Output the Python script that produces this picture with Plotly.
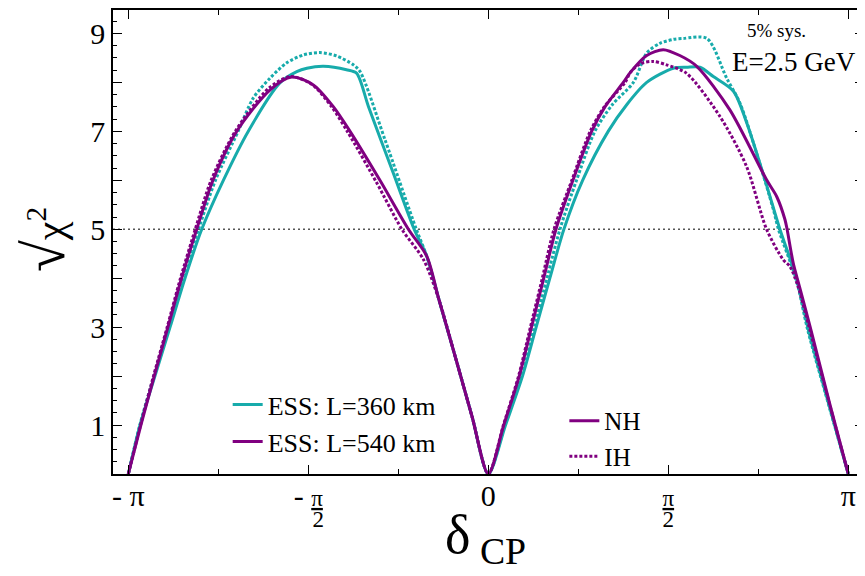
import numpy as np
import plotly.graph_objects as go

# delta_CP in units of pi, sqrt(chi^2) values
X_360_NH = [-1.0, -0.9675, -0.926, -0.884, -0.8425, -0.796, -0.736, -0.667, -0.579, -0.532, -0.504, -0.458, -0.394, -0.366, -0.333, -0.264, -0.206, -0.171, -0.137, -0.09, -0.045, 0.0,
            0.048, 0.095, 0.133, 0.171, 0.210, 0.262, 0.333, 0.385, 0.44, 0.514, 0.551, 0.588, 0.625, 0.681, 0.718, 0.769, 0.810, 0.857, 0.889, 0.945, 1.0]
Y_360_NH = [0.0, 1.0, 2.0, 3.0, 4.0, 5.0, 6.0, 7.0, 7.99, 8.22, 8.29, 8.33, 8.26, 8.19, 7.51, 6.15, 5.0, 4.45, 3.56, 2.35, 1.17, 0.0,
            1.0, 2.0, 3.0, 4.0, 5.0, 6.0, 7.0, 7.55, 8.0, 8.29, 8.31, 8.31, 8.12, 7.82, 7.17, 6.0, 5.0, 3.98, 2.95, 1.45, 0.0]

X_360_IH = [-1.0, -0.968, -0.929, -0.89, -0.85, -0.805, -0.758, -0.695, -0.653, -0.606, -0.560, -0.514, -0.468, -0.421, -0.375, -0.356, -0.287, -0.200, -0.171, -0.137, -0.09, -0.045, 0.0,
            0.046, 0.092, 0.128, 0.163, 0.199, 0.245, 0.296, 0.345, 0.403, 0.44, 0.477, 0.514, 0.542, 0.607, 0.662, 0.699, 0.745, 0.792, 0.806, 0.855, 0.887, 0.944, 1.0]
Y_360_IH = [0.0, 1.0, 2.0, 3.0, 4.0, 5.0, 6.0, 7.0, 7.68, 8.09, 8.40, 8.56, 8.61, 8.54, 8.36, 8.22, 6.83, 5.0, 4.45, 3.56, 2.35, 1.17, 0.0,
            1.0, 2.0, 3.0, 4.0, 5.0, 6.0, 7.0, 7.55, 8.0, 8.6, 8.80, 8.88, 8.90, 8.90, 8.09, 7.58, 6.56, 5.4, 5.0, 3.98, 2.95, 1.45, 0.0]

X_540_NH = [-1.0, -0.965, -0.928, -0.89, -0.852, -0.81, -0.765, -0.699, -0.606, -0.546, -0.486, -0.431, -0.384, -0.301, -0.222, -0.171, -0.137, -0.09, -0.045, 0.0,
            0.043, 0.086, 0.12, 0.154, 0.188, 0.235, 0.287, 0.324, 0.375, 0.394, 0.44, 0.486, 0.532, 0.579, 0.671, 0.773, 0.801, 0.824, 0.830, 0.847, 0.864, 0.896, 0.948, 1.0]
Y_540_NH = [0.0, 1.0, 2.0, 3.0, 4.0, 5.0, 6.0, 7.0, 7.85, 8.11, 7.95, 7.51, 7.0, 6.0, 5.0, 4.45, 3.56, 2.35, 1.17, 0.0,
            1.0, 2.0, 3.0, 4.0, 5.0, 6.0, 7.0, 7.5, 8.0, 8.2, 8.55, 8.67, 8.55, 8.33, 7.44, 6.01, 5.67, 5.2, 5.0, 4.31, 3.84, 2.95, 1.45, 0.0]

X_540_IH = [-1.0, -0.966, -0.93, -0.892, -0.855, -0.814, -0.77, -0.703, -0.61, -0.55, -0.49, -0.435, -0.39, -0.31, -0.24, -0.18, -0.137, -0.09, -0.045, 0.0,
            0.042, 0.084, 0.117, 0.15, 0.1825, 0.232, 0.283, 0.322, 0.38, 0.394, 0.422, 0.458, 0.495, 0.55, 0.643, 0.717, 0.773, 0.819, 0.838, 0.86, 0.893, 0.947, 1.0]
Y_540_IH = [0.0, 1.0, 2.0, 3.0, 4.0, 5.0, 6.0, 7.0, 7.88, 8.12, 7.96, 7.5, 6.98, 5.95, 5.0, 4.38, 3.56, 2.35, 1.17, 0.0,
            1.0, 2.0, 3.0, 4.0, 5.0, 6.0, 7.0, 7.5, 8.0, 8.2, 8.38, 8.43, 8.36, 8.19, 7.31, 6.29, 5.0, 4.38, 4.24, 3.84, 2.95, 1.45, 0.0]

THRESHOLD = 5.0
X_TICKS = [-1.0, -0.5, 0.0, 0.5, 1.0]
X_MINOR = [-0.75, -0.25, 0.25, 0.75]
Y_TICKS = [1, 2, 3, 4, 5, 6, 7, 8, 9]
Y_TICKTEXT = ["1", "", "3", "", "5", "", "7", "", "9"]

CYAN = "#17abab"
PURPLE = "#800080"
FONT = "Liberation Serif"

PI = np.pi


def rad(v):
    return np.array(v) * PI


SPL = dict(shape="spline", smoothing=0.8)

fig = go.Figure()
fig.add_trace(go.Scatter(x=rad(X_360_NH), y=Y_360_NH, mode="lines", name="ESS: L=360 km",
                         line=dict(color=CYAN, width=3, **SPL), legend="legend"))
fig.add_trace(go.Scatter(x=rad(X_360_IH), y=Y_360_IH, mode="lines", showlegend=False,
                         line=dict(color=CYAN, width=3, dash="3px,2px", **SPL)))
fig.add_trace(go.Scatter(x=rad(X_540_NH), y=Y_540_NH, mode="lines", name="ESS: L=540 km",
                         line=dict(color=PURPLE, width=3, **SPL), legend="legend"))
fig.add_trace(go.Scatter(x=rad(X_540_IH), y=Y_540_IH, mode="lines", showlegend=False,
                         line=dict(color=PURPLE, width=3, dash="3px,2px", **SPL)))
# legend-only entries for hierarchy
fig.add_trace(go.Scatter(x=[None], y=[None], mode="lines", name="NH",
                         line=dict(color=PURPLE, width=3), legend="legend2"))
fig.add_trace(go.Scatter(x=[None], y=[None], mode="lines", name="IH",
                         line=dict(color=PURPLE, width=3, dash="3px,2px"), legend="legend2"))

fig.add_shape(type="line", xref="paper", x0=0, x1=1, yref="y", y0=THRESHOLD, y1=THRESHOLD,
              line=dict(color="#555555", width=1.5, dash="2px,3px"), layer="below")

BIG = "<span style='font-size:30px'>%s</span>"
FR = "<span style='font-size:23px'>%s</span>"
tick_text = [
    BIG % "- π",
    BIG % "- " + FR % "<u>π</u>" + "<br>&nbsp;&nbsp;&nbsp;&nbsp;&nbsp;" + FR % "2",
    BIG % "0",
    FR % "<u>π</u>" + "<br>" + FR % "2",
    BIG % "π",
]

# page has an 8px body margin: figure is sized/offset so the plot area lands at
# page x 113..864, y 10..474
fig.update_layout(
    width=857, height=568,
    margin=dict(l=105, r=1, t=2, b=102),
    paper_bgcolor="white", plot_bgcolor="white",
    font=dict(family=FONT, color="black", size=30),
    xaxis=dict(range=[-1.0425 * PI, 1.0436 * PI], tickvals=rad(X_TICKS), ticktext=tick_text,
               tickfont=dict(size=16), ticks="inside", ticklen=9, tickwidth=1.2, tickcolor="black",
               showline=True, linecolor="black", linewidth=1.5, mirror="allticks", showgrid=False, zeroline=False,
               minor=dict(tickvals=rad(X_MINOR), ticks="inside", ticklen=5, tickwidth=1, tickcolor="black"),
               ticklabelstandoff=11, automargin=False),
    yaxis=dict(range=[0, 9.48], tickvals=Y_TICKS, ticktext=Y_TICKTEXT,
               tickfont=dict(size=30), ticks="inside", ticklen=9, tickwidth=1.2, tickcolor="black",
               showline=True, linecolor="black", linewidth=1.5, mirror="allticks", showgrid=False, zeroline=False,
               minor=dict(dtick=0.25, ticks="inside", ticklen=4, tickwidth=1, tickcolor="black"),
               ticklabelstandoff=0, automargin=False),
    legend=dict(x=0.1527, y=0.2, xanchor="left", yanchor="top", bgcolor="rgba(0,0,0,0)",
                font=dict(size=26, family=FONT), tracegroupgap=0, itemwidth=30),
    legend2=dict(x=0.601, y=0.164, xanchor="left", yanchor="top", bgcolor="rgba(0,0,0,0)",
                 font=dict(size=25, family=FONT), tracegroupgap=0, itemwidth=30),
    showlegend=True,
)

fig.add_annotation(text="5% sys.", xref="paper", yref="paper", x=(776 - 113) / 751, y=(474 - 31) / 464,
                   showarrow=False, font=dict(size=19, family=FONT), xanchor="center", yanchor="middle")
fig.add_annotation(text="E=2.5 GeV", xref="paper", yref="paper", x=(794 - 113) / 751, y=(474 - 62) / 464,
                   showarrow=False, font=dict(size=27, family=FONT), xanchor="center", yanchor="middle")
fig.add_annotation(text="δ<sub>&nbsp;CP</sub>", xref="paper", yref="paper",
                   x=(485 - 113) / 751, y=(474 - 538) / 464,
                   showarrow=False, font=dict(size=54, family=FONT), xanchor="center", yanchor="middle")
fig.add_annotation(text="<span style='font-size:58px'>√</span>χ<sup>2</sup>", xref="paper", yref="paper",
                   x=(44 - 113) / 751, y=(474 - 240) / 464, textangle=-90,
                   showarrow=False, font=dict(size=42, family=FONT), xanchor="center", yanchor="middle")

fig.write_html("out.html")
